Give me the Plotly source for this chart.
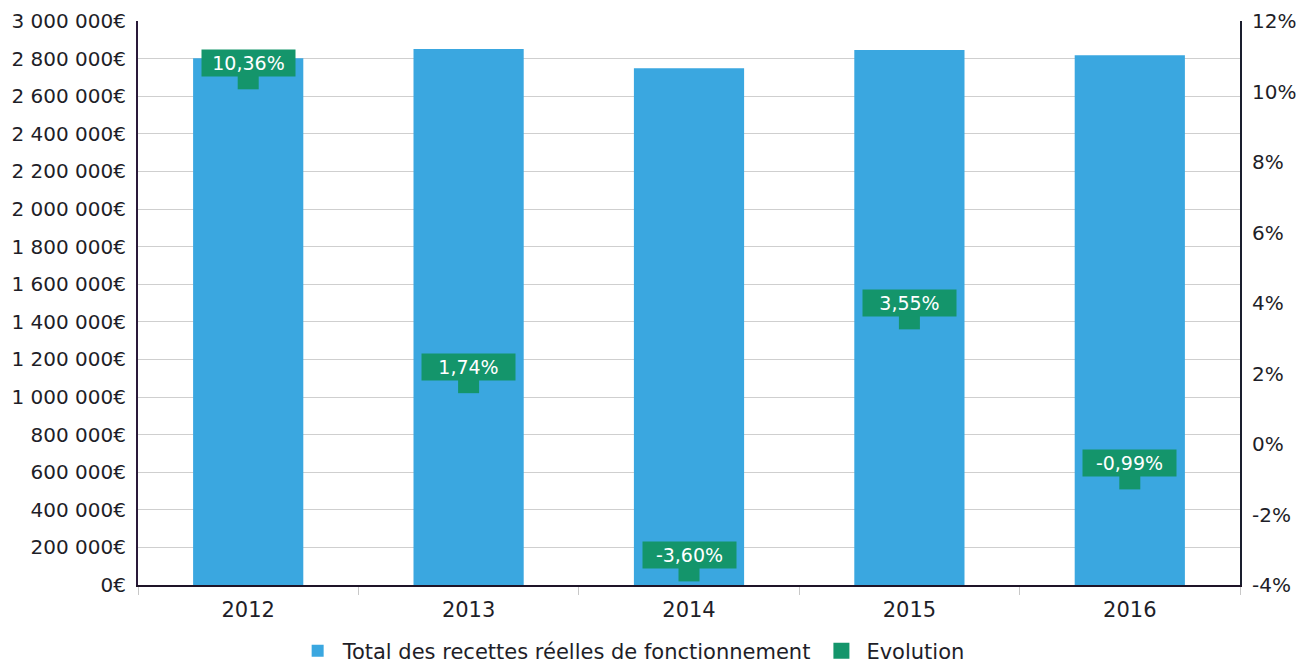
import plotly.graph_objects as go

# Data
years = ["2012", "2013", "2014", "2015", "2016"]
recettes = [2802000, 2850800, 2748200, 2845800, 2817600]
evolution = [10.36, 1.74, -3.60, 3.55, -0.99]
evolution_labels = ["10,36%", "1,74%", "-3,60%", "3,55%", "-0,99%"]
pct_ticks = [-4, -2, 0, 2, 4, 6, 8, 10, 12]
pct_tick_labels = ["-4%", "-2%", "0%", "2%", "4%", "6%", "8%", "10%", "12%"]

BLUE = "#3aa7e0"
GREEN = "#14956b"
FONT = "DejaVu Sans"
TEXT = "#1e1e28"

fig = go.Figure()

fig.add_trace(go.Bar(
    x=years, y=recettes, name="Total des recettes réelles de fonctionnement",
    marker=dict(color=BLUE, line=dict(width=0)), width=0.5, yaxis="y",
))

fig.add_trace(go.Scatter(
    x=years, y=evolution, name="Evolution", mode="markers",
    marker=dict(symbol="square", size=21, color=GREEN, line=dict(width=0)),
    yaxis="y2",
))

# Value labels above each evolution marker (category index used for x)
for i, (v, lab) in enumerate(zip(evolution, evolution_labels)):
    fig.add_annotation(
        x=i, y=v, xref="x", yref="y2", text=lab, showarrow=False,
        yanchor="bottom", yshift=2, bgcolor=GREEN, width=91, height=24,
        borderpad=1, font=dict(family=FONT, size=19, color="white"),
    )

fig.update_layout(
    width=1296, height=665,
    margin=dict(l=138, r=56, t=21, b=80, autoexpand=False),
    paper_bgcolor="white", plot_bgcolor="white",
    separators=", ",
    font=dict(family=FONT, size=19, color=TEXT),
    showlegend=True,
    legend=dict(orientation="h", xref="container", x=0.487, xanchor="center",
                yref="container", y=0.021, yanchor="middle",
                font=dict(family=FONT, size=21, color=TEXT),
                itemwidth=40, tracegroupgap=0),
    xaxis=dict(
        type="category", range=[-0.5, 4.5], showgrid=False, automargin=False,
        showline=True, linecolor="#1e1428", linewidth=2,
        ticks="outside", tickson="boundaries", ticklen=8, tickcolor="#c8c8c8",
        ticklabelstandoff=5,
        tickfont=dict(family=FONT, size=21, color=TEXT),
    ),
    yaxis=dict(
        range=[0, 3000000], tick0=0, dtick=200000, tickformat=",.0f", ticksuffix="€",
        showgrid=True, gridcolor="#cfcfcf", gridwidth=1, automargin=False,
        showline=True, linecolor="#2a1a3a", linewidth=2, zeroline=False,
        ticks="", ticklabelstandoff=6,
        tickfont=dict(family=FONT, size=20, color=TEXT),
    ),
    yaxis2=dict(
        range=[-4, 12], tickvals=pct_ticks, ticktext=pct_tick_labels,
        overlaying="y", side="right", automargin=False,
        showgrid=False, showline=True, linecolor="#1a1e2e", linewidth=2, zeroline=False,
        ticks="", ticklabelstandoff=6,
        tickfont=dict(family=FONT, size=20, color=TEXT),
    ),
)

fig.write_html("out.html")
